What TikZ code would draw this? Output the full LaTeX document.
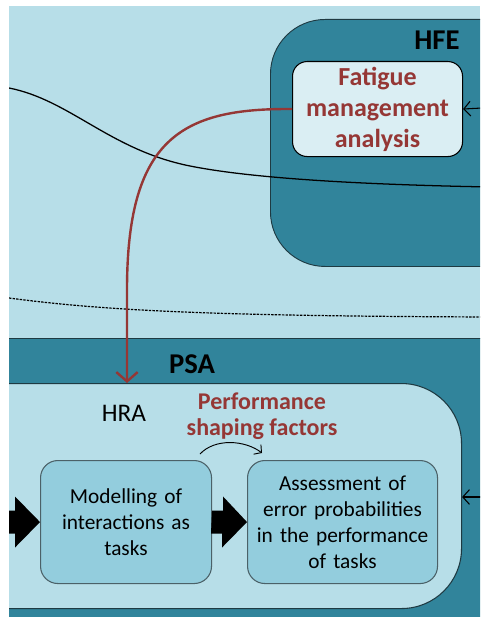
\documentclass[tikz,border=0pt]{standalone}
\usepackage{fontspec}
\setmainfont{Carlito}
\usetikzlibrary{arrows.meta}
\definecolor{bgblue}{HTML}{B7DEE8}
\definecolor{darkteal}{HTML}{31849B}
\definecolor{palefill}{HTML}{DAEEF3}
\definecolor{taskfill}{HTML}{93CDDD}
\definecolor{darkred}{HTML}{953735}
\definecolor{edgecol}{HTML}{1E3A42}
\tikzset{
  container/.style={draw=edgecol, line width=0.7pt, fill=darkteal, inner sep=0pt, anchor=north west},
  hfebig/.style={container, rounded corners=41pt},
  fatiguebox/.style={draw=black, line width=0.8pt, fill=palefill, rounded corners=11pt, inner sep=0pt, anchor=north west,
    text width=127.5pt, align=center, text=darkred, font=\bfseries\fontsize{19.5}{23.3}\selectfont},
  hrabox/.style={draw=edgecol, line width=0.8pt, fill=bgblue, rounded corners=45pt, inner sep=0pt, anchor=north west},
  taskbox/.style={draw=edgecol!80, line width=0.8pt, fill=taskfill, rounded corners=13pt, inner sep=0pt, anchor=north west,
    align=center, font=\fontsize{16}{19.5}\selectfont},
  biglabel/.style={font=\bfseries\fontsize{21.5}{24}\selectfont},
  redconn/.style={draw=darkred, line width=1.8pt, -{Straight Barb[length=7pt,width=16pt,line width=1.8pt]}},
  inarrow/.style={draw=black, line width=0.8pt, -{Straight Barb[length=5pt,width=11pt]}},
  thinarrow/.style={draw=black, line width=0.7pt, -{Straight Barb[length=4pt,width=9pt]}},
}
\begin{document}
\begin{tikzpicture}[x=0.75pt,y=-0.75pt]
\useasboundingbox (0,0) rectangle (480,617);
\fill[white] (0,0) rectangle (480,617);
\begin{scope}
\clip (9,6) rectangle (480,617);
\fill[bgblue] (9,6) rectangle (480,617);
% HFE container
\node[hfebig, minimum width=217.5pt, minimum height=185.25pt] (hfe) at (270,19) {};
\node[biglabel] (hfelabel) at (437,40) {HFE};
% fatigue box
\node[fatiguebox, minimum height=71.25pt] (fat) at (292,61) {Fatigue\\management\\analysis};
% black curve
\coordinate (bcA) at (9,88);
\coordinate (bcB) at (190,166);
\coordinate (bcC) at (490,187);
\draw[line width=0.95pt] (bcA) .. controls (70,100) and (110,150) .. (bcB) .. controls (240,176) and (330,184) .. (bcC);
% dotted line
\coordinate (dlA) at (9,298);
\coordinate (dlB) at (490,317);
\draw[line width=0.9pt, dash pattern=on 1.8pt off 0.9pt] (dlA) .. controls (100,310) and (200,316) .. (dlB);
% PSA band
\node[container, minimum width=375pt, minimum height=225pt] (psa) at (-10,338) {};
\node[biglabel] (psalabel) at (192,364) {PSA};
% HRA box
\node[hrabox, minimum width=390.75pt, minimum height=168.75pt] (hra) at (-60,383) {};
\node[font=\fontsize{19}{22}\selectfont] (hralabel) at (124,413) {HRA};
% task boxes
\node[taskbox, minimum width=128.25pt, minimum height=92.25pt, text width=120pt] (mod) at (40,460) {Modelling of\\interactions as\\tasks};
\node[taskbox, minimum width=142.5pt, minimum height=92.25pt, text width=138pt] (ass) at (247,460) {Assessment of\\error probabilities\\in the performance\\of tasks};
% PSF label
\node[text=darkred, align=center, font=\bfseries\fontsize{18}{19.5}\selectfont] (psf) at (262,416) {Performance\\shaping factors};
% red connector
\coordinate (redend) at (127,383);
\draw[redconn] (fat.west) .. controls (180,108) and (127,140) .. (127,290) -- (redend);
% incoming arrows from the right
\coordinate (rin1) at (482,108);
\coordinate (rin2) at (482,497);
\draw[inarrow] (rin1) -- (fat.east);
\draw[inarrow] (rin2) -- (hra.east |- rin2);
% small curved arrow
\coordinate (psfA) at (200,454);
\coordinate (psfB) at (262,453);
\draw[thinarrow] (psfA) .. controls (215,438) and (245,440) .. (psfB);
% block arrows
\fill[black] (mod.west) -- ++(-25,-25.5) -- ++(0,14) -- ++(-40,0) -- ++(0,23) -- ++(40,0) -- ++(0,14) -- cycle;
\fill[black] (mod.east) ++(0,-11.5) -- ++(11,0) -- ++(0,-14) -- (ass.west) -- ++(-25,25.5) -- ++(0,-14) -- ++(-11,0) -- cycle;
\end{scope}
\end{tikzpicture}
\end{document}
